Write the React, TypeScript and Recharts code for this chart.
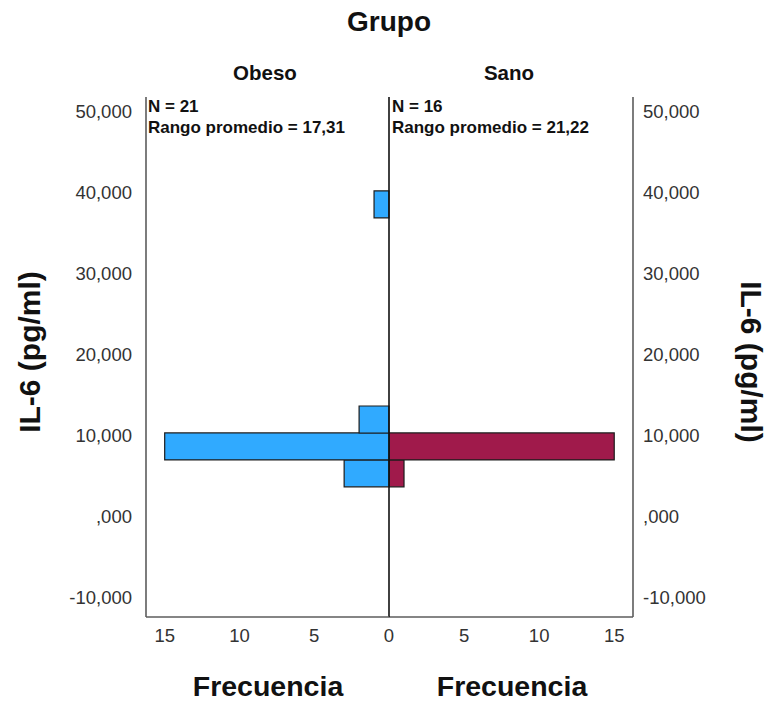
import React from 'react';
import { BarChart, Bar, XAxis, YAxis, ReferenceLine } from 'recharts';

// Histogram bins of IL-6 (pg/ml): bin centres shared by both groups
const binCenters = [5.28, 8.6, 11.92, 15.24, 18.56, 21.88, 25.2, 28.52, 31.84, 35.16, 38.48];
const obesoCounts = [3, 15, 2, 0, 0, 0, 0, 0, 0, 0, 1];
const sanoCounts = [1, 15, 0, 0, 0, 0, 0, 0, 0, 0, 0];

const groupNames = ['Obeso', 'Sano'];
const groupN = [21, 16];
const meanRanks = ['17,31', '21,22'];

const il6Ticks = [-10, 0, 10, 20, 30, 40, 50];
const leftFreqTicks = [0, 5, 10, 15];
const rightFreqTicks = [5, 10, 15];

const IL6_DOMAIN: [number, number] = [-12.47, 51.73];
const FREQ_DOMAIN: [number, number] = [0, 16.25];

const FONT = '"Liberation Sans", Arial, Helvetica, sans-serif';
const AXIS_GREY = '#5c5c5c';
const TICK_COLOR = '#333333';

const obesoData = binCenters.map((c, i) => ({ il6: c, count: obesoCounts[i] }));
const sanoData = binCenters.map((c, i) => ({ il6: c, count: sanoCounts[i] }));

// SPSS-style number: three decimals, comma separator, no leading zero
const formatIl6 = (v: number) => v.toFixed(3).replace('.', ',').replace(/^(-?)0,/, '$1,');

const tickStyle = { fill: TICK_COLOR, fontSize: 18.5, fontFamily: FONT };

export default function App() {
  return (
    <div style={{ position: 'absolute', left: 0, top: 0, width: 768, height: 704, background: '#fff' }}>
      {/* Obeso panel: bars grow to the left */}
      <div style={{ position: 'absolute', left: 0, top: 0, zIndex: 1 }}>
        <BarChart
          width={400}
          height={704}
          data={obesoData}
          layout="vertical"
          margin={{ top: 97, right: 11, bottom: 47, left: 0 }}
          barCategoryGap={0}
          barGap={0}
        >
          <XAxis
            type="number"
            domain={FREQ_DOMAIN}
            reversed
            ticks={leftFreqTicks}
            interval={0}
            tickSize={0}
            tickMargin={12}
            height={40}
            tick={tickStyle}
            axisLine={{ stroke: AXIS_GREY, strokeWidth: 1.6 }}
          />
          <YAxis
            type="number"
            dataKey="il6"
            domain={IL6_DOMAIN}
            reversed
            ticks={il6Ticks}
            interval={0}
            tickFormatter={formatIl6}
            width={146}
            tickSize={0}
            tickMargin={14}
            tick={tickStyle}
            axisLine={{ stroke: AXIS_GREY, strokeWidth: 1.6 }}
          />
          <Bar dataKey="count" fill="#30aaff" stroke="#1c1c1c" strokeWidth={1.2} isAnimationActive={false} />
          <ReferenceLine x={0} stroke="#111111" strokeWidth={1.6} />
        </BarChart>
      </div>

      {/* Sano panel: bars grow to the right */}
      <div style={{ position: 'absolute', left: 389, top: 0 }}>
        <BarChart
          width={379}
          height={704}
          data={sanoData}
          layout="vertical"
          margin={{ top: 97, right: 0, bottom: 47, left: 0 }}
          barCategoryGap={0}
          barGap={0}
        >
          <XAxis
            type="number"
            domain={FREQ_DOMAIN}
            ticks={rightFreqTicks}
            interval={0}
            tickSize={0}
            tickMargin={12}
            height={40}
            tick={tickStyle}
            axisLine={{ stroke: AXIS_GREY, strokeWidth: 1.6 }}
          />
          <YAxis
            type="number"
            dataKey="il6"
            orientation="right"
            domain={IL6_DOMAIN}
            reversed
            ticks={il6Ticks}
            interval={0}
            tickFormatter={formatIl6}
            width={135}
            tickSize={0}
            tickMargin={10}
            tick={tickStyle}
            axisLine={{ stroke: AXIS_GREY, strokeWidth: 1.6 }}
          />
          <Bar dataKey="count" fill="#a01a4b" stroke="#1c1c1c" strokeWidth={1.2} isAnimationActive={false} />
        </BarChart>
      </div>

      {/* Titles, group headers, statistics and axis titles */}
      <svg
        width={768}
        height={704}
        style={{ position: 'absolute', left: 0, top: 0, zIndex: 2, pointerEvents: 'none' }}
        fontFamily={FONT}
      >
        <text x={389} y={31} textAnchor="middle" fontSize={28} fontWeight="bold" fill="#111">Grupo</text>
        <text x={265} y={80} textAnchor="middle" fontSize={20.5} fontWeight="bold" fill="#111">{groupNames[0]}</text>
        <text x={509} y={80} textAnchor="middle" fontSize={20.5} fontWeight="bold" fill="#111">{groupNames[1]}</text>

        <text x={148} y={112} fontSize={17} fontWeight="bold" fill="#111">{`N = ${groupN[0]}`}</text>
        <text x={148} y={133} fontSize={17} fontWeight="bold" fill="#111">{`Rango promedio = ${meanRanks[0]}`}</text>
        <text x={392} y={112} fontSize={17} fontWeight="bold" fill="#111">{`N = ${groupN[1]}`}</text>
        <text x={392} y={133} fontSize={17} fontWeight="bold" fill="#111">{`Rango promedio = ${meanRanks[1]}`}</text>

        <text x={268} y={696} textAnchor="middle" fontSize={28.5} fontWeight="bold" fill="#111">Frecuencia</text>
        <text x={512} y={696} textAnchor="middle" fontSize={28.5} fontWeight="bold" fill="#111">Frecuencia</text>

        <text
          transform="translate(29,352) rotate(-90)"
          textAnchor="middle"
          dominantBaseline="central"
          fontSize={30}
          fontWeight="bold"
          fill="#111"
        >
          IL-6 (pg/ml)
        </text>
        <text
          transform="translate(751,362) rotate(90)"
          textAnchor="middle"
          dominantBaseline="central"
          fontSize={30}
          fontWeight="bold"
          fill="#111"
        >
          IL-6 (pg/ml)
        </text>
      </svg>
    </div>
  );
}
